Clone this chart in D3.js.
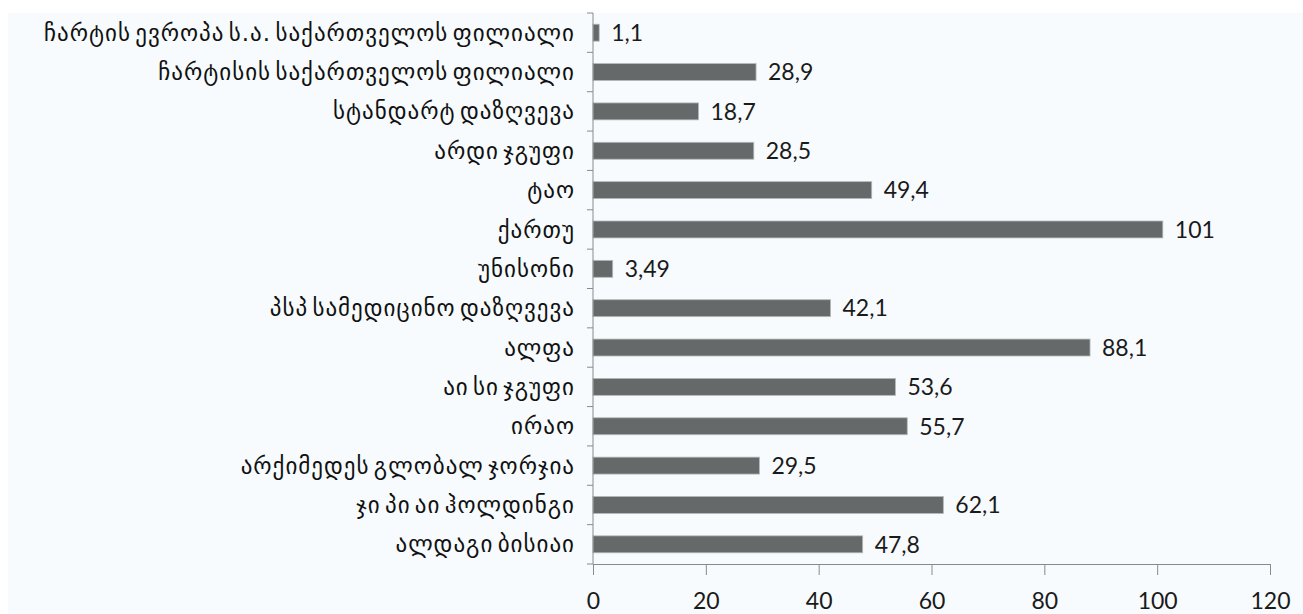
<!DOCTYPE html>
<html>
<head>
<meta charset="utf-8">
<script src="https://cdn.jsdelivr.net/npm/d3@7"></script>
<style>
  body { margin: 0; background: #fff; }
</style>
</head>
<body>
<script>
// categories, top to bottom
let categories = [
  'ჩარტის ევროპა ს.ა. საქართველოს ფილიალი',
  'ჩარტისის საქართველოს ფილიალი',
  'სტანდარტ დაზღვევა ',
  'არდი ჯგუფი',
  'ტაო',
  'ქართუ',
  'უნისონი',
  'პსპ სამედიცინო დაზღვევა',
  'ალფა',
  'აი სი ჯგუფი',
  'ირაო',
  'არქიმედეს გლობალ ჯორჯია',
  'ჯი პი აი ჰოლდინგი',
  'ალდაგი ბისიაი'
];
let values = [1.1, 28.9, 18.7, 28.5, 49.4, 101, 3.49, 42.1, 88.1, 53.6, 55.7, 29.5, 62.1, 47.8];
let ticks = [0, 20, 40, 60, 80, 100, 120];

let W = 1303, H = 614;
let plotLeft = 593, plotRight = 1270, plotTop = 13, plotBottom = 564;

let svg = d3.select('body').append('svg')
  .attr('width', W)
  .attr('height', H);

svg.append('rect')
  .attr('x', 8).attr('y', 13)
  .attr('width', W - 8).attr('height', H - 13)
  .attr('fill', '#f7fbfd');

let x = d3.scaleLinear().domain([0, 120]).range([plotLeft, plotRight]);
let y = d3.scaleBand().domain(categories).range([plotTop, plotBottom]).paddingInner(0.57).paddingOuter(0.285);

// bars
svg.selectAll('rect.bar')
  .data(values)
  .enter()
  .append('rect')
  .attr('class', 'bar')
  .attr('x', x(0))
  .attr('y', (d, i) => y(categories[i]))
  .attr('width', d => x(d) - x(0))
  .attr('height', y.bandwidth())
  .attr('fill', '#656969')
  .attr('stroke', '#b4b8b8')
  .attr('stroke-width', 0.8);

// value labels
svg.selectAll('text.val')
  .data(values)
  .enter()
  .append('text')
  .attr('class', 'val')
  .attr('x', d => x(d) + 12)
  .attr('y', (d, i) => y(categories[i]) + y.bandwidth() / 2)
  .attr('dy', '0.36em')
  .attr('font-family', 'Lato, "Open Sans", sans-serif')
  .attr('font-size', '23px')
  .attr('fill', '#1a1a1a')
  .text(d => String(d).replace('.', ','));

// category labels
svg.selectAll('text.cat')
  .data(categories)
  .enter()
  .append('text')
  .attr('class', 'cat')
  .attr('x', 575)
  .attr('y', d => y(d) + y.bandwidth() / 2)
  .attr('dy', '0.35em')
  .attr('text-anchor', 'end')
  .attr('font-family', '"DejaVu Sans", sans-serif')
  .attr('font-size', '23px')
  .attr('letter-spacing', '1px')
  .attr('word-spacing', '-4px')
  .attr('fill', '#111')
  .text(d => d);

// left axis line with ticks at category boundaries
let step = y.step();
svg.append('line')
  .attr('x1', plotLeft).attr('x2', plotLeft)
  .attr('y1', plotTop).attr('y2', plotBottom)
  .attr('stroke', '#8a8a8a');
svg.selectAll('line.ytick')
  .data(d3.range(categories.length + 1))
  .enter()
  .append('line')
  .attr('class', 'ytick')
  .attr('x1', plotLeft - 6).attr('x2', plotLeft)
  .attr('y1', i => plotTop + i * step).attr('y2', i => plotTop + i * step)
  .attr('stroke', '#8a8a8a');

// bottom axis
let xAxis = d3.axisBottom(x).tickValues(ticks).tickSize(11).tickSizeOuter(0).tickPadding(18);
let gx = svg.append('g')
  .attr('transform', 'translate(0,' + plotBottom + ')')
  .call(xAxis);
gx.selectAll('path, line').attr('stroke', '#8a8a8a');
gx.selectAll('text')
  .attr('font-family', 'Lato, "Open Sans", sans-serif')
  .attr('font-size', '23px')
  .attr('fill', '#1a1a1a');
</script>
</body>
</html>
